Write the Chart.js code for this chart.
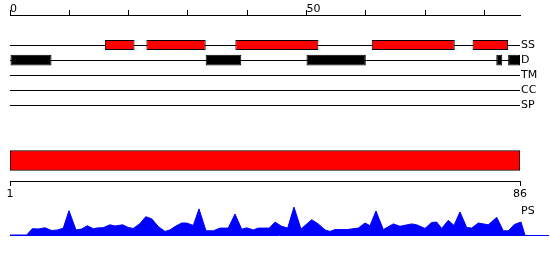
<!DOCTYPE html>
<html>
<head>
<meta charset="utf-8">
<script src="https://cdn.jsdelivr.net/npm/chart.js@4/dist/chart.umd.min.js"></script>
<style>
body{margin:0;background:#fff}
#wrap{position:relative;width:550px;height:260px;overflow:hidden}
canvas{position:absolute;left:0}
</style>
</head>
<body>
<div id="wrap">
<canvas id="tracks" width="550" height="128" style="top:0px"></canvas>
<canvas id="domain" width="550" height="85" style="top:120px"></canvas>
<canvas id="ps" width="550" height="60" style="top:200px"></canvas>
</div>
<script>
// track rows, top to bottom
const trackNames = ['SS','D','TM','CC','SP'];
// secondary structure segments (residues)
const ssStart = [16, 23, 38, 61, 78];
const ssEnd   = [21, 33, 52, 75, 84];
// disorder segments
const dStart = [0, 33, 50, 82, 84];
const dEnd   = [7, 39, 60, 83, 86];
const topTicks  = [0,10,20,30,40,50,60,70,80];
const topLabels = [0, 50];
// domain bar + bottom ruler
const domStart = [1];
const domEnd   = [86];
const rulerTicks = [1, 86];
// PS profile (position, score)
const psPos = [1,3.78,4.72,5.72,6.83,7.95,9.0,9.88,10.83,12.0,12.95,13.88,14.88,15.72,16.5,17.67,18.5,19.78,20.72,21.55,22.67,23.62,24.62,25.72,26.83,27.67,28.5,29.62,30.45,31.55,32.5,33.67,34.88,36.0,37.38,38.5,39.62,40.45,41.55,42.38,44.22,45.17,46.28,47.28,48.33,49.5,51.28,52.38,53.5,54.33,55.17,57.12,59.05,60.17,61.0,62.0,63.22,64.88,66.0,67.95,68.78,70.17,71.28,72.12,72.95,74.05,75.0,76.0,77.12,77.95,79.05,80.72,82.12,83.22,84.05,85.05,86.17,86.83];
const psScore = [0,0,.21,.20,.24,.15,.17,.23,.81,.17,.20,.31,.21,.24,.24,.34,.30,.34,.25,.22,.38,.61,.54,.28,.12,.17,.28,.40,.40,.32,.87,.14,.14,.23,.23,.70,.19,.24,.17,.23,.23,.43,.29,.23,.93,.20,.51,.37,.17,.12,.18,.18,.23,.40,.31,.80,.18,.37,.29,.37,.34,.22,.42,.43,.22,.49,.32,.77,.25,.23,.40,.34,.59,.14,.14,.35,.43,0];

Chart.defaults.font.family = 'DejaVu Sans';
Chart.defaults.font.size = 11;
Chart.defaults.color = '#000';
Chart.defaults.animation = false;
Chart.defaults.plugins.legend.display = false;
Chart.defaults.plugins.tooltip.enabled = false;

const toBars = (row, starts, ends) => starts.map((s, i) => ({y: row, x: [s, ends[i]]}));

new Chart(document.getElementById('tracks'), {
  type: 'bar',
  data: {
    datasets: [
      {data: toBars(0, ssStart, ssEnd), backgroundColor: '#ff0000', borderColor: '#000', borderWidth: 1,
       borderSkipped: false, grouped: false, maxBarThickness: 10},
      {data: toBars(1, dStart, dEnd), backgroundColor: '#000', borderColor: '#000', borderWidth: 1,
       borderSkipped: false, grouped: false, maxBarThickness: 11}
    ]
  },
  options: {
    indexAxis: 'y',
    responsive: false,
    layout: {padding: {left: 10, right: 0, top: 0, bottom: 0}},
    scales: {
      x: {
        type: 'linear', position: 'top', min: 0, max: 86,
        afterBuildTicks: s => { s.ticks = topTicks.map(v => ({value: v})); },
        afterFit: s => { s.height = 15; },
        grid: {drawOnChartArea: false, tickLength: 5, color: '#000'},
        border: {color: '#000'},
        ticks: {align: 'start', padding: -6, maxRotation: 0, autoSkip: false,
                callback: v => topLabels.includes(v) ? String(v) : ''}
      },
      y: {
        type: 'linear', position: 'right', reverse: true, min: -2, max: 5, offset: false,
        afterBuildTicks: s => { s.ticks = trackNames.map((n, i) => ({value: i})); },
        afterFit: s => { s.width = 30; },
        grid: {color: '#000', drawTicks: false, offset: false},
        border: {display: false},
        ticks: {padding: 1, callback: v => trackNames[v]}
      }
    }
  }
});

new Chart(document.getElementById('domain'), {
  type: 'bar',
  data: {
    labels: ['domain'],
    datasets: [{data: domStart.map((s, i) => [s, domEnd[i]]), backgroundColor: '#ff0000', borderColor: '#000',
                borderWidth: 1, borderSkipped: false, barThickness: 20}]
  },
  options: {
    indexAxis: 'y',
    responsive: false,
    layout: {padding: {left: 10, right: 30, top: 20, bottom: 0}},
    scales: {
      x: {
        type: 'linear', position: 'bottom', min: 1, max: 86,
        afterBuildTicks: s => { s.ticks = rulerTicks.map(v => ({value: v})); },
        afterFit: s => { s.height = 24; },
        grid: {drawOnChartArea: false, tickLength: 5, color: '#000'},
        border: {color: '#000'},
        ticks: {padding: 2, maxRotation: 0, autoSkip: false}
      },
      y: {display: false}
    }
  }
});

const psLabel = {
  id: 'psLabel',
  afterDraw(chart) {
    const ctx = chart.ctx;
    ctx.save();
    ctx.font = '11px "DejaVu Sans"';
    ctx.fillStyle = '#000';
    ctx.textAlign = 'left';
    ctx.textBaseline = 'middle';
    ctx.fillText('PS', 521, 11);
    ctx.restore();
  }
};

new Chart(document.getElementById('ps'), {
  type: 'line',
  data: {
    datasets: [{
      data: psPos.map((p, i) => ({x: p, y: psScore[i]})),
      borderColor: '#0000ff', borderWidth: 1, backgroundColor: '#0000ff',
      fill: 'origin', pointRadius: 0, tension: 0
    }]
  },
  options: {
    responsive: false,
    layout: {padding: {left: 10, right: 2, top: 5, bottom: 0}},
    scales: {
      x: {
        type: 'linear', min: 1, max: 90.67,
        afterFit: s => { s.height = 25; },
        grid: {display: false},
        border: {color: '#0000ff', width: 1},
        ticks: {display: false}
      },
      y: {display: false, min: 0, max: 1}
    }
  },
  plugins: [psLabel]
});
</script>
</body>
</html>
